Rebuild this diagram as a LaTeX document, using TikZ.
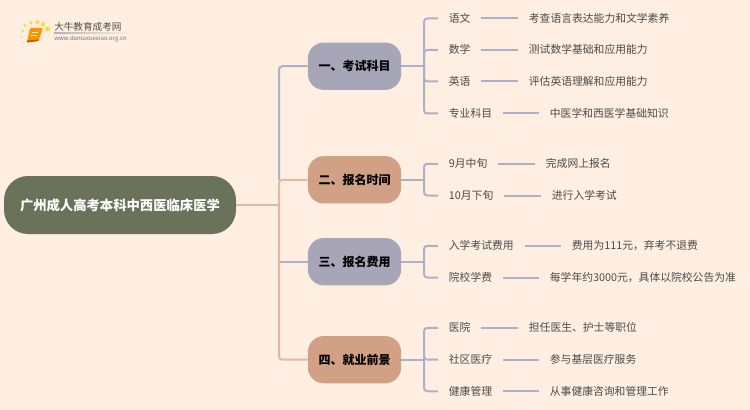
\documentclass[tikz,border=0pt]{standalone}
\usepackage{fontspec}
\setmainfont{Noto Sans CJK SC}
\definecolor{bgc}{HTML}{FFEFE2}
\definecolor{rootc}{HTML}{6A7259}
\definecolor{greyc}{HTML}{A6A6B8}
\definecolor{orc}{HTML}{D2A085}
\definecolor{greyl}{HTML}{AEB0C8}
\definecolor{orl}{HTML}{E2B8A0}
\definecolor{txtc}{HTML}{4A4A4A}
\tikzset{
  x=0.75pt,y=-0.75pt,
  rootbox/.style={fill=rootc,text=white,font=\fontsize{10pt}{12pt}\selectfont\bfseries,rounded corners=18pt,minimum width=174pt,minimum height=43.5pt,inner sep=0pt},
  branchg/.style={fill=greyc,text=black,font=\fontsize{9pt}{11pt}\selectfont\bfseries,rounded corners=12pt,minimum width=70pt,minimum height=35.5pt,inner sep=0pt},
  brancho/.style={branchg,fill=orc},
  leafbox/.style={anchor=west,text=txtc,font=\fontsize{8.1pt}{10pt}\selectfont,inner xsep=8pt,inner ysep=0pt,text height=7pt,text depth=1pt},
  gline/.style={draw=greyl,line width=1.5pt,rounded corners=2.5pt},
  oline/.style={draw=orl,line width=1.5pt,rounded corners=2.5pt},
  dot/.style={fill=#1,draw=none},
}
\begin{document}
\begin{tikzpicture}
\useasboundingbox[fill=bgc] (0,0) rectangle (750,410);
% logo
\foreach \px/\py/\pr in {47.7/29/2.6,43/24.5/2.2,37.7/22/2,31/22.7/1.9,25/25.7/1.7,22.7/31/1.4,21.5/37/1.1,23.5/42.5/.9}
  \fill[dot=yellow!75!orange,opacity=.8] (\px,\py) circle (\pr);
\fill[orange!85!yellow,rounded corners=1pt] (30,28) -- (43,28) -- (38.5,41) -- (27,42.5) -- cycle;
\fill[orange!75!black] (27,40.5) -- (38.5,39.5) -- (38.5,41) -- (27,42.5) -- cycle;
\draw[white!85!orange,line width=.6pt] (32,32) -- (38,32) (31,35) -- (37,35);
\node[anchor=west,inner sep=0pt,text=black!70,font=\fontsize{7.2pt}{9pt}\selectfont] (logot) at (54,27) {大牛教育成考网};
\node[anchor=west,inner sep=0pt,text=black!55,font=\fontsize{4.5pt}{6pt}\selectfont] (logou) at (54,38.5) {www.daniuxuexiao.org.cn};
\shade[left color=black!30,right color=bgc] (54,33) rectangle (132,33.6);
% nodes
\node[rootbox] (root) at (120,205) {广州成人高考本科中西医临床医学};
\node[branchg] (b1) at (354.5,66.2) {一、考试科目};
\node[brancho] (b2) at (354.5,179.8) {二、报名时间};
\node[branchg] (b3) at (354.5,261.7) {三、报名费用};
\node[brancho] (b4) at (354.5,359.7) {四、就业前景};
\coordinate (j0) at (279,205);
\coordinate (j2) at (279,180);
\coordinate (j3) at (279,261.7);
\coordinate (k1) at (424,66.2);
\coordinate (k2) at (424,179.8);
\coordinate (k3) at (424,261.7);
\coordinate (k4) at (424,359.7);
% leaves
\node[leafbox] (l11) at (438,18.5) {语文};
\node[leafbox] (l12) at (438,50) {数学};
\node[leafbox] (l13) at (438,81.5) {英语};
\node[leafbox] (l14) at (438,113.5) {专业科目};
\node[leafbox] (l21) at (438,163.8) {9月中旬};
\node[leafbox] (l22) at (438,195.5) {10月下旬};
\node[leafbox] (l31) at (438,245.8) {入学考试费用};
\node[leafbox] (l32) at (438,277.5) {院校学费};
\node[leafbox] (l41) at (438,327.8) {医院};
\node[leafbox] (l42) at (438,359.7) {社区医疗};
\node[leafbox] (l43) at (438,391.3) {健康管理};
% details
\node[leafbox] (d11) at (518,18.5) {考查语言表达能力和文学素养};
\node[leafbox] (d12) at (518,50) {测试数学基础和应用能力};
\node[leafbox] (d13) at (518,81.5) {评估英语理解和应用能力};
\node[leafbox] (d14) at (539,113.5) {中医学和西医学基础知识};
\node[leafbox] (d21) at (535,163.8) {完成网上报名};
\node[leafbox] (d22) at (541,195.5) {进行入学考试};
\node[leafbox] (d31) at (561,245.8) {费用为111元，弃考不退费};
\node[leafbox] (d32) at (539,277.5) {每学年约3000元，具体以院校公告为准};
\node[leafbox] (d41) at (518,327.8) {担任医生、护士等职位};
\node[leafbox] (d42) at (539,359.7) {参与基层医疗服务};
\node[leafbox] (d43) at (539,391.3) {从事健康咨询和管理工作};
% main connectors
\draw[gline] (j2) |- (b1.west);
\draw[gline] (j3) -- (b3.west);
\draw[oline] (root.east) -- (j0);
\draw[oline] (j0) |- (b2.west);
\draw[oline] (j0) |- (b4.west);
% branch connectors
\foreach \b/\k in {b1/k1,b2/k2,b3/k3,b4/k4} \draw[gline] (\b.east) -- (\k);
\foreach \k/\l in {k1/l11,k1/l12,k1/l13,k1/l14,k2/l21,k2/l22,k3/l31,k3/l32,k4/l41,k4/l42,k4/l43}
  \draw[gline] (\k) |- (\l.west);
\foreach \l/\d in {l11/d11,l12/d12,l13/d13,l14/d14,l21/d21,l22/d22,l31/d31,l32/d32,l41/d41,l42/d42,l43/d43}
  \draw[gline] (\l.east) -- (\d.west);
\end{tikzpicture}
\end{document}
